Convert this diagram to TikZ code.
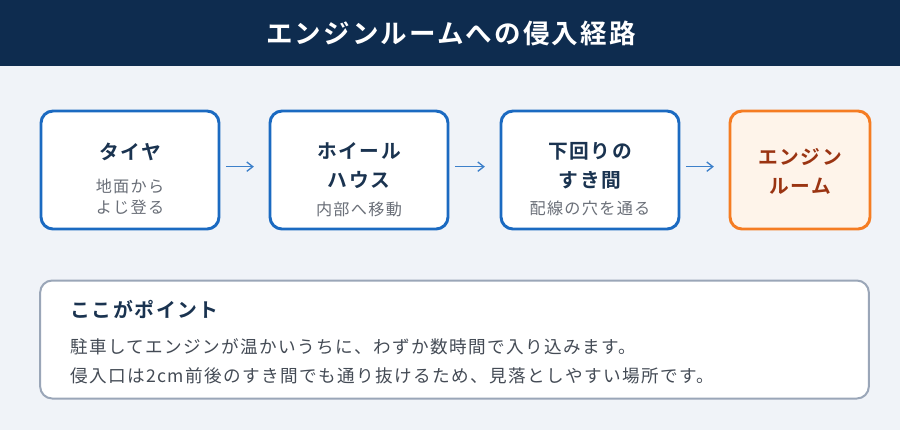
\documentclass[tikz,border=0pt]{standalone}
\usepackage{fontspec}
\setmainfont{Noto Sans CJK JP}[BoldFont={Noto Sans CJK JP Bold}, LetterSpace=8]
\usepackage{tikz}
\usetikzlibrary{arrows.meta, positioning}

\definecolor{headbg}{HTML}{0E2C4F}
\definecolor{pagebg}{HTML}{F0F3F8}
\definecolor{stepblue}{HTML}{1B6AC1}
\definecolor{stepnavy}{HTML}{1A3350}
\definecolor{subgray}{HTML}{6A6F78}
\definecolor{goalline}{HTML}{F57C22}
\definecolor{goalfill}{HTML}{FEF4EA}
\definecolor{goaltext}{HTML}{9A3412}
\definecolor{noteline}{HTML}{9AA6B8}
\definecolor{notetext}{HTML}{444B55}

\tikzset{
    stepbox/.style={draw=stepblue, fill=white, line width=2.2pt, rounded corners=9pt,
        minimum width=133.5pt, minimum height=88.5pt},
    goalbox/.style={stepbox, draw=goalline, fill=goalfill, minimum width=105pt},
    steptitle/.style={font=\bfseries\fontsize{14.8}{21.75}\selectfont, text=stepnavy,
        align=center, inner sep=0pt},
    stepsub/.style={font=\fontsize{12.1}{15.75}\selectfont, text=subgray,
        align=center, inner sep=0pt},
    flowarrow/.style={-{Straight Barb[length=4.5pt, width=7pt]}, draw=stepblue!85!white,
        line width=1pt, shorten <=4pt, shorten >=11pt},
}

\begin{document}
\begin{tikzpicture}[x=0.75pt, y=-0.75pt]
    \useasboundingbox (0,0) rectangle (900,430);
    \fill[pagebg] (0,0) rectangle (900,430);

    % --- 見出し ---
    \fill[headbg] (0,0) rectangle (900,66);
    \node[font=\bfseries\fontsize{19.9}{22}\selectfont, text=white, inner sep=0pt]
        (head) at (451,33) {エンジンルームへの侵入経路};

    % --- 経路の箱 ---
    \node[stepbox] (tire) at (130,170) {};
    \node[steptitle] (tiretitle) at (130,152) {タイヤ};
    \node[stepsub] (tiresub) at (130,196.5) {地面から\\よじ登る};

    \node[stepbox] (wheel) at (359,170) {};
    \node[steptitle] (wheeltitle) at (359,166) {ホイール\\ハウス};
    \node[stepsub] (wheelsub) at (359,209) {内部へ移動};

    \node[stepbox] (gap) at (590,170) {};
    \node[steptitle] (gaptitle) at (590,166) {下回りの\\すき間};
    \node[stepsub] (gapsub) at (590,208) {配線の穴を通る};

    \node[goalbox] (engine) at (800,170) {};
    \node[steptitle, text=goaltext] (enginetitle) at (800,171.5) {エンジン\\ルーム};

    % --- 矢印 ---
    \draw[flowarrow] ([yshift=2.5pt]tire.east) -- ([yshift=2.5pt]wheel.west);
    \draw[flowarrow] ([yshift=2.5pt]wheel.east) -- ([yshift=2.5pt]gap.west);
    \draw[flowarrow] ([yshift=2.5pt]gap.east) -- ([yshift=2.5pt]engine.west);

    % --- ポイント ---
    \node[draw=noteline, fill=white, line width=1.5pt, rounded corners=9pt,
        minimum width=621.5pt, minimum height=88.5pt] (note) at (454.5,339.5) {};
    \node[font=\bfseries\fontsize{14.9}{17}\selectfont, text=stepnavy, anchor=west, inner sep=0pt]
        (notetitle) at (70,309) {ここがポイント};
    \node[font=\fontsize{13.2}{15}\selectfont, text=notetext, anchor=west, inner sep=0pt]
        (noteone) at (70,347) {駐車してエンジンが温かいうちに、わずか数時間で入り込みます。};
    \node[font=\fontsize{13.2}{15}\selectfont, text=notetext, anchor=west, inner sep=0pt]
        (notetwo) at (70,376) {侵入口は2cm前後のすき間でも通り抜けるため、見落としやすい場所です。};
\end{tikzpicture}
\end{document}
